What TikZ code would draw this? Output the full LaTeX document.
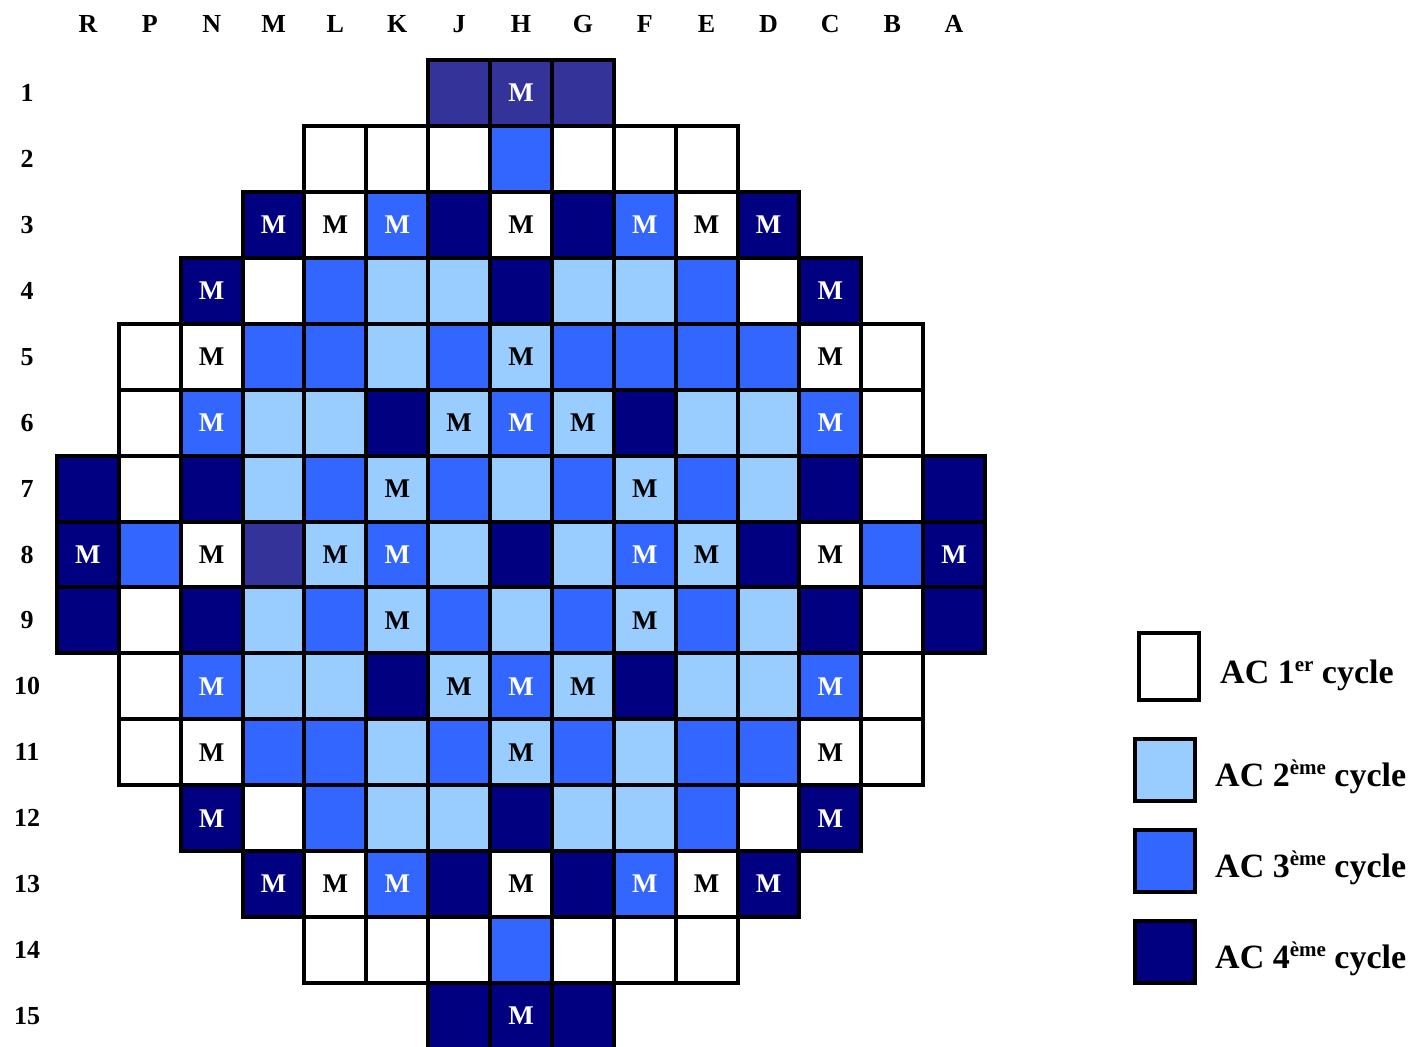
\documentclass[tikz,border=0pt]{standalone}
\usepackage{fontspec}
\setmainfont{Liberation Serif}
\definecolor{cW}{HTML}{FFFFFF}
\definecolor{cL}{HTML}{99CCFF}
\definecolor{cB}{HTML}{3366FF}
\definecolor{cN}{HTML}{000080}
\definecolor{cP}{HTML}{333399}
\newcommand\upx[1]{\raisebox{12pt}{\fontsize{21}{21}\selectfont #1}}
\tikzset{
  cell/.style={draw=black, line width=4pt, minimum width=61.87pt, minimum height=65.93pt,
    inner sep=0pt, outer sep=0pt, font=\fontsize{27}{30}\selectfont\bfseries},
  fW/.style={fill=cW, text=black},
  fL/.style={fill=cL, text=black},
  fB/.style={fill=cB, text=white},
  fN/.style={fill=cN, text=white},
  fP/.style={fill=cP, text=white},
  lab/.style={font=\fontsize{26}{28}\selectfont\bfseries, inner sep=0pt},
  legbox/.style={draw=black, line width=4pt, minimum width=60pt, inner sep=0pt, outer sep=0pt},
  legtxt/.style={font=\fontsize{34}{38}\selectfont\bfseries, anchor=base west, inner sep=0pt}
}
\begin{document}
\begin{tikzpicture}[x=1pt, y=-1pt]
\useasboundingbox (0,0) rectangle (1414,1047);
% column labels
\foreach \l [count=\k from 0] in {R,P,N,M,L,K,J,H,G,F,E,D,C,B,A}
  \node[lab] (col\k) at ({57+61.87*(\k+0.5)},24) {\l};
% row labels
\foreach \r in {1,...,15}
  \node[lab] (row\r) at (27,{60+65.93*(\r-0.5)}) {\r};
% cells
\foreach \r/\s/\lst in {
 1/6/{fP/{},fP/M,fP/{}},
 2/4/{fW/{},fW/{},fW/{},fB/{},fW/{},fW/{},fW/{}},
 3/3/{fN/M,fW/M,fB/M,fN/{},fW/M,fN/{},fB/M,fW/M,fN/M},
 4/2/{fN/M,fW/{},fB/{},fL/{},fL/{},fN/{},fL/{},fL/{},fB/{},fW/{},fN/M},
 5/1/{fW/{},fW/M,fB/{},fB/{},fL/{},fB/{},fL/M,fB/{},fB/{},fB/{},fB/{},fW/M,fW/{}},
 6/1/{fW/{},fB/M,fL/{},fL/{},fN/{},fL/M,fB/M,fL/M,fN/{},fL/{},fL/{},fB/M,fW/{}},
 7/0/{fN/{},fW/{},fN/{},fL/{},fB/{},fL/M,fB/{},fL/{},fB/{},fL/M,fB/{},fL/{},fN/{},fW/{},fN/{}},
 8/0/{fN/M,fB/{},fW/M,fP/{},fL/M,fB/M,fL/{},fN/{},fL/{},fB/M,fL/M,fN/{},fW/M,fB/{},fN/M},
 9/0/{fN/{},fW/{},fN/{},fL/{},fB/{},fL/M,fB/{},fL/{},fB/{},fL/M,fB/{},fL/{},fN/{},fW/{},fN/{}},
 10/1/{fW/{},fB/M,fL/{},fL/{},fN/{},fL/M,fB/M,fL/M,fN/{},fL/{},fL/{},fB/M,fW/{}},
 11/1/{fW/{},fW/M,fB/{},fB/{},fL/{},fB/{},fL/M,fB/{},fL/{},fB/{},fB/{},fW/M,fW/{}},
 12/2/{fN/M,fW/{},fB/{},fL/{},fL/{},fN/{},fL/{},fL/{},fB/{},fW/{},fN/M},
 13/3/{fN/M,fW/M,fB/M,fN/{},fW/M,fN/{},fB/M,fW/M,fN/M},
 14/4/{fW/{},fW/{},fW/{},fB/{},fW/{},fW/{},fW/{}},
 15/6/{fN/{},fN/M,fN/{}}}
{
  \foreach \c/\t [count=\k from \s] in \lst
    \node[cell,\c] (c\k-\r) at ({57+61.87*(\k+0.5)},{60+65.93*(\r-0.5)}) {\t};
}
% legend
\node[legbox, fill=cW, minimum height=67pt] (leg1) at (1169,666.5) {};
\node[legbox, fill=cL, minimum height=62pt] (leg2) at (1165,770) {};
\node[legbox, fill=cB, minimum height=62pt] (leg3) at (1165,861) {};
\node[legbox, fill=cN, minimum height=62pt] (leg4) at (1165,952) {};
\node[legtxt] (legt1) at (1220,683) {AC 1\upx{er} cycle};
\node[legtxt] (legt2) at (1215,786) {AC 2\upx{ème} cycle};
\node[legtxt] (legt3) at (1215,877) {AC 3\upx{ème} cycle};
\node[legtxt] (legt4) at (1215,968) {AC 4\upx{ème} cycle};
\end{tikzpicture}
\end{document}
